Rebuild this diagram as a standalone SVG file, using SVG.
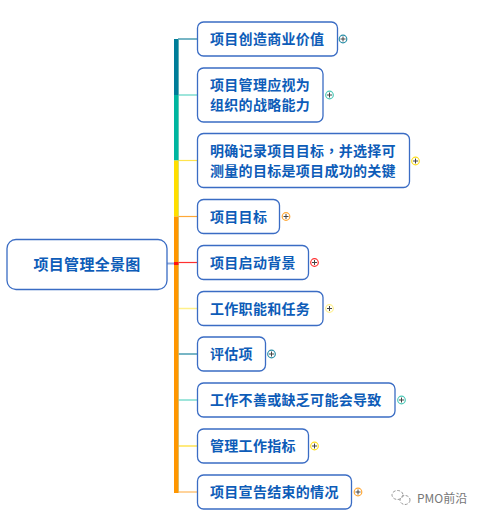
<svg xmlns="http://www.w3.org/2000/svg" width="483" height="520" viewBox="0 0 483 520">
<style>
.box{fill:#fff;stroke:#3a6cc4;stroke-width:1.3}
.t{font-family:"Noto Sans CJK SC","Liberation Sans",sans-serif;font-weight:700;font-size:14px;fill:#0d5cb8;letter-spacing:.3px}
.r{font-size:15px}
.tc{font-family:"Noto Sans CJK TC","Noto Sans CJK SC",sans-serif}
.c{fill:#fff;stroke-width:1.2}
.p{stroke:#444;stroke-width:1;fill:none}
.w{font-family:"Noto Sans CJK SC","Liberation Sans",sans-serif;font-size:12px;fill:#777}
</style>
<defs>
<path id="plus" class="p" d="M-2.5 0H2.5M0-2.5V2.5"/>
</defs>
<rect width="483" height="520" fill="#fff"/>
<g id="connectors" fill="none">
<path d="M167 263.500H175" stroke="#8fa9dc" stroke-width="2"/>
<path d="M178 39H197.500" stroke="#4a9db2" stroke-width="1.500"/>
<path d="M178 95H197.500" stroke="#7edccf" stroke-width="1.500"/>
<path d="M178 160.500H197.500" stroke="#ffe34d" stroke-width="1.200"/>
<path d="M178 216.500H197.500" stroke="#ffa838" stroke-width="1.200"/>
<path d="M178 262.500H197.500" stroke="#ff3030" stroke-width="1.200"/>
<path d="M178 308.500H197.500" stroke="#fff08a" stroke-width="1.500"/>
<path d="M178 354H197.500" stroke="#4a9db2" stroke-width="1.500"/>
<path d="M178 400H197.500" stroke="#7edccf" stroke-width="1.500"/>
<path d="M178 446H197.500" stroke="#ffe870" stroke-width="1.800"/>
<path d="M178 492H197.500" stroke="#ffcf90" stroke-width="1.800"/>
<path d="M178.300 39V492" stroke="#a8dcc8" stroke-width="1"/>
<rect x="174" y="39" width="4.500" height="56" fill="#007d99"/>
<rect x="174" y="95" width="4.500" height="65.500" fill="#00b6a0"/>
<rect x="174" y="160.500" width="4.500" height="56" fill="#ffde00"/>
<rect x="174" y="216.500" width="4.500" height="276.500" fill="#ff9600"/>
<rect x="174" y="262" width="4.500" height="3" fill="#ff1010"/>
</g>
<g id="root"><rect class="box" x="7" y="239.500" width="160" height="50" rx="9"/><text class="t r" x="33.500" y="269.500">项目管理全景图</text></g>
<g id="n1"><rect class="box" x="197.500" y="22" width="140" height="34" rx="6"/><text class="t" x="210" y="43.500">项目创造商业价值</text><circle class="c" cx="343" cy="39" r="3.800" stroke="#2a8fa8"/><use href="#plus" x="343" y="39"/></g>
<g id="n2"><rect class="box" x="197.500" y="68" width="125.500" height="54" rx="6"/><text class="t" x="210" y="90">项目管理应视为</text><text class="t" x="210" y="110">组织的战略能力</text><circle class="c" cx="329.500" cy="95" r="3.800" stroke="#4cc9b8"/><use href="#plus" x="329.500" y="95"/></g>
<g id="n3"><rect class="box" x="197.500" y="133.500" width="212" height="54" rx="6"/><text class="t" x="210" y="156">明确记录项目目标<tspan class="tc">，</tspan>并选择可</text><text class="t" x="210" y="176">测量的目标是项目成功的关键</text><circle class="c" cx="415.500" cy="161" r="3.800" stroke="#ffe020"/><use href="#plus" x="415.500" y="161"/></g>
<g id="n4"><rect class="box" x="197.500" y="199.500" width="82" height="34" rx="6"/><text class="t" x="210" y="221.500">项目目标</text><circle class="c" cx="286" cy="216.500" r="3.800" stroke="#ffa838"/><use href="#plus" x="286" y="216.500"/></g>
<g id="n5"><rect class="box" x="197.500" y="245.500" width="111" height="34" rx="6"/><text class="t" x="210" y="267.500">项目启动背景</text><circle class="c" cx="314.500" cy="262.500" r="3.800" stroke="#ff3030"/><use href="#plus" x="314.500" y="262.500"/></g>
<g id="n6"><rect class="box" x="197.500" y="291.500" width="125.500" height="34" rx="6"/><text class="t" x="210" y="313.500">工作职能和任务</text><circle class="c" cx="329.500" cy="308.500" r="3.800" stroke="#fff08a"/><use href="#plus" x="329.500" y="308.500"/></g>
<g id="n7"><rect class="box" x="197.500" y="337" width="68" height="34" rx="6"/><text class="t" x="210" y="359">评估项</text><circle class="c" cx="271.500" cy="354" r="3.800" stroke="#2a8fa8"/><use href="#plus" x="271.500" y="354"/></g>
<g id="n8"><rect class="box" x="197.500" y="383" width="197.500" height="34" rx="6"/><text class="t" x="210" y="405">工作不善或缺乏可能会导致</text><circle class="c" cx="401.500" cy="400" r="3.800" stroke="#4cc9b8"/><use href="#plus" x="401.500" y="400"/></g>
<g id="n9"><rect class="box" x="197.500" y="429" width="111" height="34" rx="6"/><text class="t" x="210" y="451">管理工作指标</text><circle class="c" cx="314.500" cy="446" r="3.800" stroke="#ffe020"/><use href="#plus" x="314.500" y="446"/></g>
<g id="n10"><rect class="box" x="197.500" y="475" width="154" height="34" rx="6"/><text class="t" x="210" y="497">项目宣告结束的情况</text><circle class="c" cx="358" cy="492" r="3.800" stroke="#ffa838"/><use href="#plus" x="358" y="492"/></g>
<g id="watermark">
<g fill="none" stroke="#999" stroke-width="1" stroke-dasharray="3 1.500"><ellipse cx="397.500" cy="495" rx="5.500" ry="4.500"/><ellipse cx="405" cy="500" rx="5" ry="4.500"/></g>
<text class="w" x="417" y="502.500">PMO前沿</text>
</g>
</svg>
